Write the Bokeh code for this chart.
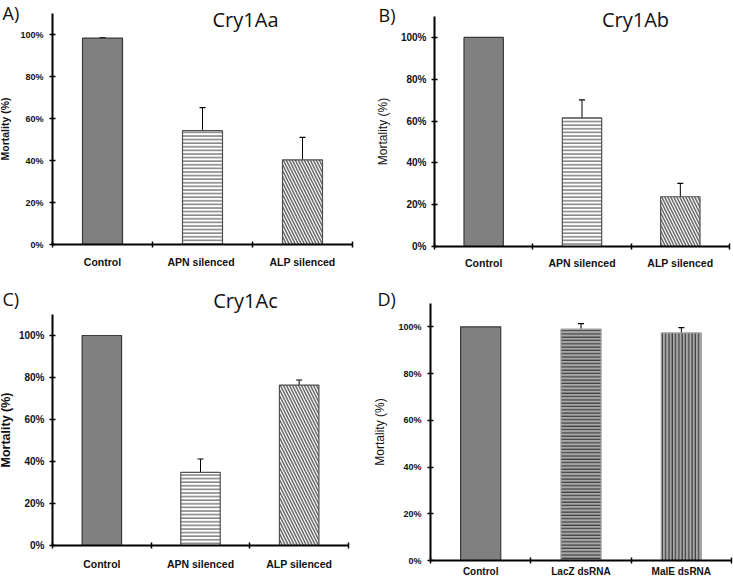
import numpy as np
from bokeh.plotting import figure
from bokeh.models import ColumnDataSource, FixedTicker, Range1d, Whisker, TeeHead, Label
from bokeh.layouts import column, row
from bokeh.embed import file_html
from bokeh.resources import INLINE

# ---------------- data ----------------
cats_A = ["Control", "APN  silenced", "ALP silenced"]
mort_A = [98.3, 54.2, 40.3]
err_hi_A = [98.5, 65.2, 51.0]
err_lo_A = [98.1, 43.3, 29.8]

cats_B = ["Control", "APN silenced", "ALP silenced"]
mort_B = [100.0, 61.5, 23.8]
err_hi_B = [None, 70.1, 30.2]
err_lo_B = [None, 52.7, 17.4]

cats_C = ["Control", "APN silenced", "ALP silenced"]
mort_C = [100.0, 34.8, 76.4]
err_hi_C = [None, 41.2, 78.8]
err_lo_C = [None, 28.3, 73.9]

cats_D = ["Control", "LacZ dsRNA", "MalE dsRNA"]
mort_D = [100.0, 99.0, 97.4]
err_hi_D = [None, 101.4, 99.7]
err_lo_D = [None, 96.5, 95.0]

y_ticks = [0, 20, 40, 60, 80, 100]
y_tick_labels = ["0%", "20%", "40%", "60%", "80%", "100%"]

titles = {"A": "Cry1Aa", "B": "Cry1Ab", "C": "Cry1Ac", "D": None}
y_title = "Mortality (%)"

# ---------------- styles ----------------
STY_CTRL = dict(fill="#808080", hatch=" ", hcol="#000000", hscale=4.0, hw=1.0, line="#3a3a3a")
STY_H = dict(fill="#ffffff", hatch="-", hcol="#808080", hscale=3.6, hw=1.5, line="#505050")
STY_D = dict(fill="#ffffff", hatch="\\", hcol="#6e6e6e", hscale=6.0, hw=1.6, line="#505050")
STY_DH = dict(fill="#a8a8a8", hatch="-", hcol="#262626", hscale=3.3, hw=1.0, line="#a0a0a0")
STY_DV = dict(fill="#a8a8a8", hatch="|", hcol="#262626", hscale=3.3, hw=1.0, line="#a0a0a0")

Y_MAX = 110
N_CAT = 3


def frame_dims(g):
    fw = g["w"] - g["bl"] - g["br"]
    fh = g["h"] - g["bt"] - g["bb"]
    return fw / N_CAT, fh / Y_MAX


def page_to_data(g, rx, ry):
    u, v = frame_dims(g)
    px = rx - g["ox"] - g["bl"]
    py = ry - g["oy"] - g["bt"]
    return px / u, Y_MAX - py / v


def make_panel(g, cats, vals, hi, lo, styles, letter, letter_pos, title, title_pos,
               tick_fs, ylab_fs, ylab_style, cat_fs, ylab_standoff, tick_standoff, cat_standoff):
    n = len(cats)
    xpos = np.arange(n) + 0.5
    u, v = frame_dims(g)
    xr = Range1d(-g["bl"] / u, n + g["br"] / u)
    yr = Range1d(-g["bb"] / v, Y_MAX + g["bt"] / v)
    p = figure(width=g["w"], height=g["h"], x_range=xr, y_range=yr,
               output_backend="svg", toolbar_location=None, tools="",
               min_border_left=0, min_border_right=0, min_border_top=0, min_border_bottom=0)
    p.outline_line_color = None
    p.xgrid.visible = False
    p.ygrid.visible = False

    src = ColumnDataSource(dict(
        x=xpos, top=vals,
        fill=[s["fill"] for s in styles],
        hatch=[s["hatch"] for s in styles],
        hcol=[s["hcol"] for s in styles],
        hscale=[s["hscale"] for s in styles],
        hw=[s["hw"] for s in styles],
        line=[s["line"] for s in styles],
    ))
    p.vbar(x="x", top="top", bottom=0, width=0.4, source=src,
           fill_color="fill", line_color="line", line_width=1.2,
           hatch_pattern="hatch", hatch_color="hcol", hatch_scale="hscale", hatch_weight="hw")

    idx = [i for i in range(n) if hi[i] is not None]
    if idx:
        wsrc = ColumnDataSource(dict(base=xpos[idx], upper=[hi[i] for i in idx], lower=[lo[i] for i in idx]))
        w = Whisker(base="base", upper="upper", lower="lower", source=wsrc, dimension="height",
                    line_color="black", line_width=1,
                    upper_head=TeeHead(size=6, line_color="black", line_width=1.2),
                    lower_head=TeeHead(size=6, line_color="black", line_width=1.2))
        p.add_layout(w)

    # y axis
    ya = p.yaxis[0]
    ya.fixed_location = 0
    ya.bounds = (0, Y_MAX)
    ya.ticker = FixedTicker(ticks=y_ticks)
    ya.major_label_overrides = {t: l for t, l in zip(y_ticks, y_tick_labels)}
    ya.major_label_text_font = "Liberation Sans"
    ya.major_label_text_font_style = "bold"
    ya.major_label_text_font_size = tick_fs
    ya.major_label_text_color = "#111111"
    ya.major_tick_in = 3
    ya.major_tick_out = 3
    ya.major_tick_line_width = 1.5
    ya.minor_tick_line_color = None
    ya.axis_line_width = 2
    ya.major_label_standoff = tick_standoff
    ya.axis_label = y_title
    ya.axis_label_text_font = "Liberation Sans"
    ya.axis_label_text_font_style = ylab_style
    ya.axis_label_text_font_size = ylab_fs
    ya.axis_label_text_color = "#111111"
    ya.axis_label_standoff = ylab_standoff

    # x axis
    xa = p.xaxis[0]
    xa.fixed_location = 0
    xa.bounds = (0, n)
    xa.ticker = FixedTicker(ticks=list(xpos), minor_ticks=list(np.arange(0, n + 1)))
    xa.major_label_overrides = {float(x): c for x, c in zip(xpos, cats)}
    xa.major_label_text_font = "Liberation Sans"
    xa.major_label_text_font_style = "bold"
    xa.major_label_text_font_size = cat_fs
    xa.major_label_text_color = "#111111"
    xa.major_tick_in = 0
    xa.major_tick_out = 0
    xa.minor_tick_in = 3
    xa.minor_tick_out = 3
    xa.minor_tick_line_width = 1.5
    xa.axis_line_width = 2
    xa.major_label_standoff = cat_standoff

    lx, ly = page_to_data(g, *letter_pos)
    p.add_layout(Label(x=lx, y=ly, text=letter, text_font="Open Sans", text_font_size="18px",
                       text_align="left", text_baseline="middle", text_color="#111111"))
    if title:
        tx, ty = page_to_data(g, *title_pos)
        p.add_layout(Label(x=tx, y=ty, text=title, text_font="Open Sans", text_font_size="20px",
                           text_align="center", text_baseline="middle", text_color="#111111"))
    return p


# panel geometry (page pixels): origin, size, and distances from the edges to the axes box
gA = dict(ox=0, oy=0, w=366, h=285, bl=52, br=14, bt=13, bb=41)
gB = dict(ox=366, oy=0, w=367, h=285, bl=68, br=4, bt=16, bb=39)
gC = dict(ox=0, oy=285, w=366, h=292, bl=52, br=18, bt=29, bb=32)
gD = dict(ox=366, oy=285, w=367, h=292, bl=64, br=2, bt=18, bb=17)

pA = make_panel(gA, cats_A, mort_A, err_hi_A, err_lo_A, [STY_CTRL, STY_H, STY_D],
                "A)", (2, 12), titles["A"], (245, 19),
                "9px", "10.5px", "bold", "10.5px", 6, 6, 8)
pB = make_panel(gB, cats_B, mort_B, err_hi_B, err_lo_B, [STY_CTRL, STY_H, STY_D],
                "B)", (378, 14), titles["B"], (635, 19),
                "10px", "12px", "normal", "10.5px", 8, 5, 7)
pC = make_panel(gC, cats_C, mort_C, err_hi_C, err_lo_C, [STY_CTRL, STY_H, STY_D],
                "C)", (2, 298), titles["C"], (245, 300),
                "10px", "12.5px", "bold", "10.5px", 3, 5, 9)
pD = make_panel(gD, cats_D, mort_D, err_hi_D, err_lo_D, [STY_CTRL, STY_DH, STY_DV],
                "D)", (377, 298), titles["D"], None,
                "9px", "12px", "normal", "10px", 8, 6, 2)

layout = column(row(pA, pB), row(pC, pD))
open("out.html", "w").write(file_html(layout, INLINE))
